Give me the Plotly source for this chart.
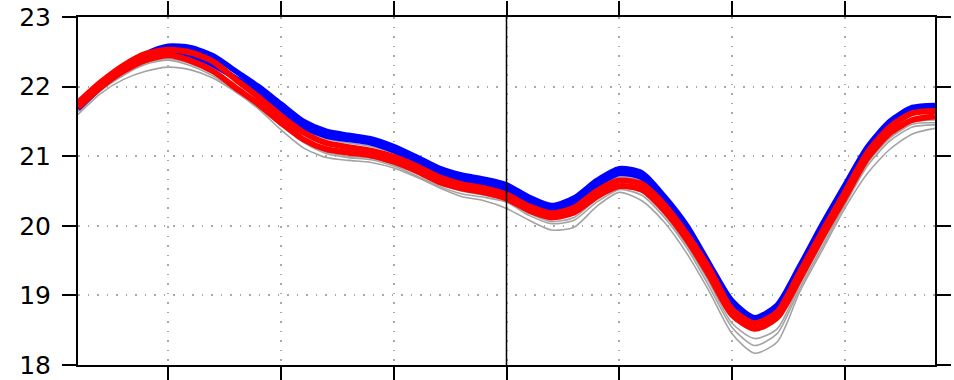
import plotly.graph_objects as go

# Time axis (tick labels hidden); one value every 2 units
x = list(range(2, 80, 2))

# Ensemble members, grey
grey_upper = [21.72, 22.02, 22.26, 22.42, 22.48, 22.43, 22.30, 22.08, 21.86, 21.60, 21.38, 21.25, 21.19, 21.14, 21.04, 20.90, 20.74, 20.64, 20.58, 20.49, 20.31, 20.21, 20.30, 20.54, 20.70, 20.64, 20.32, 19.88, 19.34, 18.78, 18.50, 18.64, 19.20, 19.80, 20.38, 20.94, 21.30, 21.49, 21.52]
grey_mid1 = [21.66, 21.96, 22.18, 22.34, 22.40, 22.33, 22.18, 21.96, 21.72, 21.46, 21.22, 21.06, 21.00, 20.97, 20.88, 20.75, 20.60, 20.50, 20.44, 20.36, 20.18, 20.06, 20.12, 20.38, 20.55, 20.48, 20.16, 19.72, 19.18, 18.60, 18.38, 18.52, 19.15, 19.75, 20.33, 20.90, 21.26, 21.46, 21.48]
grey_mid2 = [21.64, 21.94, 22.16, 22.32, 22.38, 22.30, 22.15, 21.94, 21.70, 21.44, 21.20, 21.04, 20.98, 20.95, 20.86, 20.72, 20.57, 20.46, 20.41, 20.34, 20.15, 20.03, 20.08, 20.34, 20.52, 20.44, 20.12, 19.68, 19.12, 18.54, 18.28, 18.45, 19.10, 19.70, 20.30, 20.86, 21.22, 21.42, 21.45]
grey_low = [21.60, 21.90, 22.10, 22.22, 22.28, 22.24, 22.12, 21.92, 21.68, 21.38, 21.12, 20.98, 20.94, 20.91, 20.83, 20.70, 20.55, 20.42, 20.36, 20.25, 20.08, 19.94, 19.98, 20.28, 20.48, 20.36, 20.05, 19.60, 19.05, 18.45, 18.17, 18.33, 19.05, 19.65, 20.25, 20.75, 21.10, 21.32, 21.40]

# Blue members
blue_hi = [21.70, 22.04, 22.28, 22.47, 22.58, 22.56, 22.44, 22.22, 22.00, 21.75, 21.50, 21.36, 21.30, 21.25, 21.14, 20.99, 20.83, 20.73, 20.67, 20.59, 20.41, 20.29, 20.40, 20.65, 20.82, 20.76, 20.42, 20.00, 19.45, 18.92, 18.68, 18.86, 19.42, 20.02, 20.58, 21.13, 21.50, 21.70, 21.73]
blue_lo = [21.68, 21.99, 22.23, 22.41, 22.50, 22.44, 22.31, 22.12, 21.92, 21.66, 21.42, 21.29, 21.24, 21.19, 21.08, 20.93, 20.77, 20.67, 20.61, 20.53, 20.35, 20.23, 20.33, 20.58, 20.75, 20.69, 20.35, 19.93, 19.38, 18.86, 18.62, 18.78, 19.35, 19.95, 20.52, 21.07, 21.44, 21.64, 21.67]

# Red members
red_hi = [21.77, 22.06, 22.30, 22.47, 22.53, 22.49, 22.36, 22.10, 21.85, 21.58, 21.34, 21.19, 21.13, 21.08, 20.99, 20.86, 20.70, 20.60, 20.54, 20.45, 20.28, 20.18, 20.26, 20.50, 20.65, 20.60, 20.30, 19.88, 19.38, 18.80, 18.60, 18.76, 19.33, 19.92, 20.48, 21.05, 21.42, 21.62, 21.65]
red_lo = [21.70, 21.99, 22.22, 22.38, 22.45, 22.37, 22.22, 21.98, 21.75, 21.48, 21.24, 21.10, 21.05, 21.01, 20.92, 20.79, 20.63, 20.54, 20.48, 20.39, 20.22, 20.12, 20.19, 20.42, 20.57, 20.52, 20.22, 19.80, 19.28, 18.72, 18.52, 18.68, 19.24, 19.84, 20.40, 20.97, 21.33, 21.52, 21.57]

y_ticks = [18, 19, 20, 21, 22, 23]
x_ticks = [10, 20, 30, 40, 50, 60, 70]
x_divider = 40

W, H = 954, 380
# plot frame in pixels: left, right, top, bottom
FL, FR, FT, FB = 78, 935, 17, 365

fig = go.Figure()

def add_line(values, color, width):
    fig.add_trace(go.Scatter(
        x=x, y=values, mode="lines",
        line=dict(color=color, width=width, shape="spline", smoothing=0.7),
        hoverinfo="skip", showlegend=False,
    ))

for g in (grey_low, grey_mid2, grey_mid1, grey_upper):
    add_line(g, "#a3a3a3", 1.6)
for b in (blue_lo, blue_hi):
    add_line(b, "#0000ff", 5.5)
for r in (red_lo, red_hi):
    add_line(r, "#ff0000", 6)

fig.add_shape(type="line", xref="x", yref="paper",
              x0=x_divider, x1=x_divider, y0=0, y1=1,
              line=dict(color="black", width=1.5))

grid = dict(showgrid=True, gridcolor="#a8a8a8", gridwidth=1.5, griddash="1.5px,8px")

fig.update_xaxes(
    range=[2, 78], tickmode="array", tickvals=x_ticks, showticklabels=False,
    ticks="outside", ticklen=14, tickwidth=2, tickcolor="black",
    showline=True, linewidth=2, linecolor="black", mirror="ticks",
    zeroline=False, automargin=False, **grid,
)
fig.update_yaxes(
    range=[18, 23], tickmode="array", tickvals=y_ticks,
    ticks="outside", ticklen=14, tickwidth=2, tickcolor="black",
    showline=True, linewidth=2, linecolor="black", mirror="ticks",
    zeroline=False, automargin=False, ticklabelstandoff=6,
    tickfont=dict(family="DejaVu Sans", size=25, color="black"),
    **grid,
)

fig.update_layout(
    width=W, height=H,
    margin=dict(l=FL, r=W - FR, t=FT, b=H - FB, autoexpand=False),
    plot_bgcolor="white", paper_bgcolor="white",
)

fig.write_html("out.html")
